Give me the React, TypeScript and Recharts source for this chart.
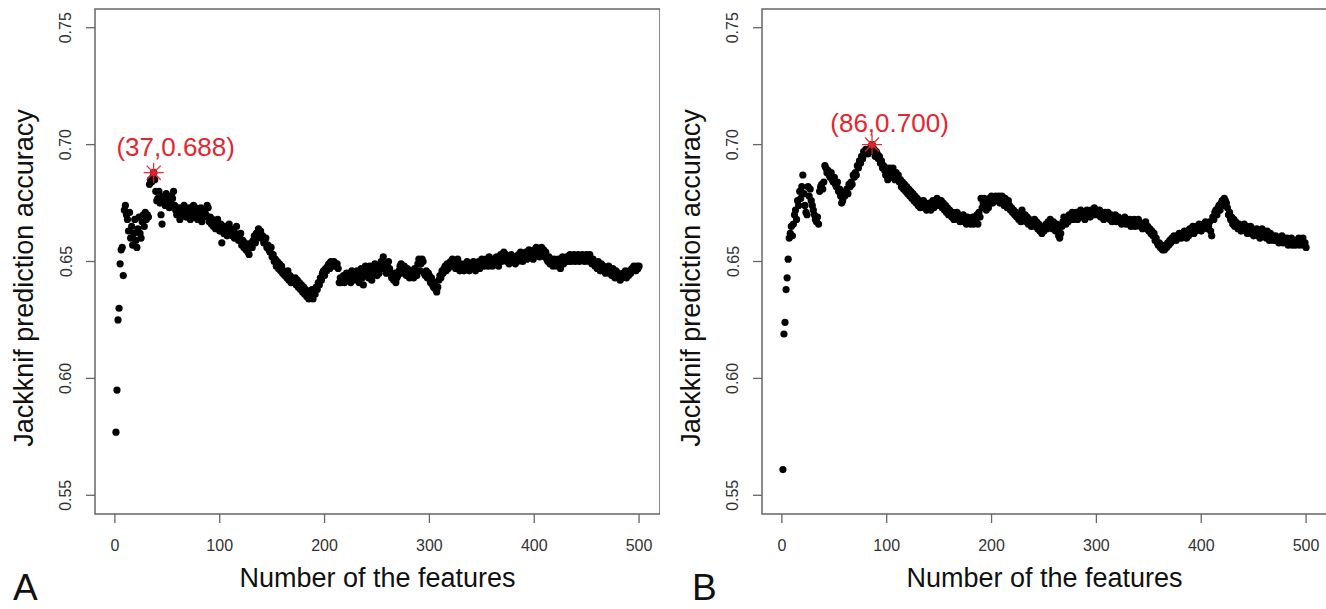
import { Label, ReferenceArea, Scatter, ScatterChart, XAxis, YAxis } from 'recharts'

// number of features on the x axis (1..500)
const featureCounts = Array.from({ length: 500 }, (_, i) => i + 1)

// jackknife accuracy x1000
const accuracyA = [
  577, 595, 625, 630, 649, 655, 656, 644, 672, 674,
  670, 668, 663, 671, 660, 665, 657, 662, 668, 659,
  656, 664, 669, 662, 660, 667, 670, 665, 671, 668,
  670, 669, 683, 685, 684, 686, 688, 685, 680, 676,
  677, 680, 675, 670, 666, 678, 676, 674, 679, 677,
  675, 673, 676, 678, 677, 680, 674, 672, 670, 673,
  671, 668, 673, 672, 670, 674, 671, 669, 672, 670,
  673, 668, 672, 671, 674, 669, 673, 671, 668, 672,
  670, 673, 667, 671, 669, 672, 670, 674, 673, 667,
  669, 666, 668, 665, 667, 664, 666, 668, 665, 663,
  666, 658, 664, 662, 665, 663, 661, 664, 666, 662,
  664, 661, 663, 660, 662, 665, 661, 659, 660, 662,
  657, 659, 656, 658, 655, 657, 654, 653, 656, 658,
  656, 659, 661, 658, 662, 660, 664, 662, 663, 660,
  661, 658, 659, 660, 656, 657, 655, 654, 656, 652,
  653, 650, 651, 648, 650, 647, 649, 646, 648, 645,
  646, 644, 645, 643, 646, 642, 644, 641, 643, 642,
  641, 643, 640, 642, 639, 641, 638, 640, 637, 639,
  636, 638, 635, 637, 634, 636, 635, 638, 634, 637,
  636, 639, 638, 641, 640, 643, 642, 645, 646, 644,
  647, 646, 648, 649, 647, 650, 649, 648, 650, 649,
  648, 649, 647, 641, 643, 641, 642, 644, 641, 643,
  645, 642, 644, 643, 641, 646, 644, 642, 645, 643,
  646, 644, 641, 645, 647, 643, 640, 645, 648, 644,
  646, 643, 648, 645, 642, 647, 645, 649, 646, 644,
  647, 645, 648, 650, 647, 652, 649, 647, 645, 648,
  650, 647, 645, 643, 644, 642, 645, 641, 643, 644,
  646, 648, 649, 647, 645, 648, 646, 644, 647, 645,
  643, 646, 644, 645, 643, 647, 645, 644, 649, 651,
  646, 649, 651, 650, 645, 644, 646, 643, 645, 644,
  641, 643, 640, 639, 641, 638, 637, 639, 642, 644,
  643, 646, 645, 647, 648, 646, 649, 647, 648, 650,
  649, 651, 648, 650, 647, 649, 651, 648, 646, 649,
  647, 648, 646, 649, 648, 650, 647, 646, 648, 649,
  647, 650, 648, 646, 649, 648, 650, 647, 649, 651,
  650, 648, 649, 651, 650, 648, 652, 649, 650, 648,
  651, 649, 650, 652, 650, 648, 651, 653, 650, 652,
  654, 651, 653, 650, 652, 649, 651, 653, 650, 652,
  651, 649, 652, 650, 653, 651, 654, 652, 650, 653,
  652, 654, 651, 653, 655, 652, 654, 653, 651, 655,
  654, 656, 653, 655, 652, 654, 656, 653, 655, 652,
  654, 651, 650, 652, 649, 651, 650, 648, 651, 649,
  650, 648, 651, 649, 647, 650, 652, 649, 651, 650,
  652, 650, 651, 653, 650, 652, 651, 653, 650, 652,
  651, 653, 650, 652, 651, 653, 652, 650, 651, 653,
  652, 650, 653, 651, 649, 651, 650, 648, 649, 647,
  650, 648, 646, 649, 647, 648, 646, 645, 647, 646,
  648, 645, 646, 644, 647, 645, 643, 646, 644, 645,
  643, 642, 644, 643, 645, 644, 646, 643, 645, 644,
  646, 645, 647, 646, 648, 647, 646, 648, 647, 648,
]

// jackknife accuracy x1000
const accuracyB = [
  561, 619, 624, 638, 643, 651, 660, 662, 665, 661,
  666, 670, 672, 668, 676, 674, 680, 677, 682, 687,
  679, 674, 671, 670, 682, 678, 681, 676, 674, 672,
  670, 668, 667, 669, 666, 680, 682, 683, 681, 684,
  691, 690, 688, 689, 687, 686, 688, 685, 684, 686,
  683, 682, 684, 680, 681, 678, 675, 676, 679, 678,
  680, 681, 679, 683, 682, 684, 683, 687, 686, 688,
  687, 691, 690, 693, 692, 695, 694, 697, 696, 698,
  697, 696, 698, 697, 699, 700, 697, 698, 695, 697,
  696, 694, 695, 692, 693, 690, 691, 689, 687, 690,
  685, 688, 690, 686, 689, 690, 687, 685, 688, 686,
  687, 684, 685, 682, 684, 681, 683, 680, 682, 679,
  681, 678, 680, 677, 679, 676, 678, 675, 677, 674,
  676, 673, 675, 674, 676, 673, 675, 672, 674, 673,
  675, 672, 674, 676, 673, 675, 674, 677, 675, 676,
  674, 676, 673, 675, 672, 674, 671, 673, 670, 672,
  671, 669, 671, 668, 670, 669, 671, 668, 670, 667,
  669, 668, 670, 667, 668, 666, 669, 667, 668, 666,
  667, 669, 666, 668, 667, 670, 666, 671, 669, 677,
  673, 675, 677, 674, 672, 675, 673, 677, 676, 678,
  675, 677, 676, 678, 677, 676, 678, 675, 677, 678,
  676, 674, 677, 675, 673, 676, 674, 672, 673, 671,
  672, 670, 671, 669, 670, 668, 669, 667, 672, 670,
  668, 670, 667, 669, 666, 668, 667, 665, 667, 666,
  668, 665, 667, 664, 666, 663, 665, 662, 664, 663,
  665, 666, 664, 667, 665, 668, 666, 664, 667, 665,
  663, 666, 664, 661, 660, 662, 665, 667, 669, 668,
  666, 669, 667, 670, 668, 669, 671, 668, 670, 669,
  671, 668, 670, 669, 672, 670, 669, 671, 668, 670,
  672, 670, 671, 669, 672, 670, 671, 673, 670, 672,
  671, 670, 672, 669, 671, 670, 668, 671, 669, 670,
  671, 669, 668, 670, 667, 669, 668, 670, 667, 668,
  669, 667, 668, 666, 668, 667, 669, 666, 668, 667,
  666, 668, 665, 667, 666, 668, 665, 667, 666, 668,
  667, 665, 666, 664, 666, 665, 667, 664, 665, 663,
  664, 662, 663, 661, 662, 659, 660, 658, 657, 658,
  656, 657, 655, 656, 655, 657, 656, 658, 657, 659,
  658, 660, 659, 661, 660, 659, 661, 660, 662, 661,
  660, 662, 661, 663, 662, 660, 663, 661, 664, 662,
  663, 665, 662, 664, 663, 665, 664, 666, 665, 663,
  664, 666, 665, 667, 666, 664, 665, 667, 663, 661,
  669, 668, 671, 672, 670, 673, 674, 672, 675, 676,
  674, 677, 676, 675, 673, 670, 671, 668, 669, 666,
  668, 665, 667, 666, 664, 666, 665, 663, 665, 664,
  666, 663, 665, 662, 664, 663, 665, 662, 664, 661,
  663, 662, 664, 661, 663, 660, 662, 664, 661, 663,
  662, 660, 663, 661, 659, 662, 660, 661, 659, 660,
  661, 659, 660, 658, 660, 659, 661, 658, 660, 659,
  658, 660, 657, 659, 658, 660, 657, 659, 658, 657,
  659, 658, 660, 657, 659, 658, 660, 657, 658, 656,
]

const bestA = [{ n: 37, acc: 0.688 }]
const bestB = [{ n: 86, acc: 0.7 }]

const xTicks = [0, 100, 200, 300, 400, 500]
const yTicks = [0.55, 0.6, 0.65, 0.7, 0.75]
const xTitle = 'Number of the features'
const yTitle = 'Jackknif prediction accuracy'

const X_DOMAIN: [number, number] = [-18.96, 519.96]
const Y_DOMAIN: [number, number] = [0.542, 0.758]
const FONT = '"Liberation Sans", Arial, sans-serif'
const FRAME = '#666'
const RED = '#e3262f'

const pointsA = featureCounts.map((n, i) => ({ n, acc: accuracyA[i] / 1000 }))
const pointsB = featureCounts.map((n, i) => ({ n, acc: accuracyB[i] / 1000 }))

function Dot(props: any) {
  return <circle cx={props.cx} cy={props.cy} r={3.6} fill="#000" />
}

function makeStar(dx: number, dy: number) {
  return function Star(props: any) {
    const { cx, cy, payload } = props
    const r = 10
    const d = r * Math.SQRT1_2
    return (
      <g>
        <circle cx={cx} cy={cy} r={3.8} fill="#b51a22" />
        <line x1={cx - r} y1={cy} x2={cx + r} y2={cy} stroke={RED} strokeWidth={1.2} />
        <line x1={cx} y1={cy - r} x2={cx} y2={cy + r} stroke={RED} strokeWidth={1.2} />
        <line x1={cx - d} y1={cy - d} x2={cx + d} y2={cy + d} stroke={RED} strokeWidth={1.2} />
        <line x1={cx - d} y1={cy + d} x2={cx + d} y2={cy - d} stroke={RED} strokeWidth={1.2} />
        <text
          x={cx + dx}
          y={cy + dy}
          textAnchor="middle"
          dominantBaseline="central"
          fontSize={26}
          fontFamily={FONT}
          fill={RED}
        >
          {`(${payload.n},${payload.acc.toFixed(3)})`}
        </text>
      </g>
    )
  }
}

function XTick({ x, y, payload }: any) {
  return (
    <text x={x} y={y + 28} textAnchor="middle" fontSize={16} fontFamily={FONT} fill="#333">
      {payload.value}
    </text>
  )
}

function YTick({ x, y, payload }: any) {
  const tx = x - 14.5
  return (
    <text
      x={tx}
      y={y}
      transform={`rotate(-90, ${tx}, ${y})`}
      textAnchor="middle"
      fontSize={16}
      fontFamily={FONT}
      fill="#333"
    >
      {payload.value.toFixed(2)}
    </text>
  )
}

type PanelProps = {
  points: { n: number; acc: number }[]
  best: { n: number; acc: number }[]
  left: number
  width: number
  axisWidth: number
  letter: string
  letterX: number
  labelDx: number
  labelDy: number
}

function Panel({ points, best, left, width, axisWidth, letter, letterX, labelDx, labelDy }: PanelProps) {
  return (
    <div style={{ position: 'absolute', left, top: 0 }}>
      <ScatterChart width={width} height={609} margin={{ top: 9, right: 0, bottom: 0, left: 0 }}>
        <XAxis
          type="number"
          dataKey="n"
          domain={X_DOMAIN}
          ticks={xTicks}
          interval={0}
          allowDataOverflow
          axisLine={false}
          tickSize={9}
          tickMargin={0}
          tickLine={{ stroke: FRAME, strokeWidth: 1.3 }}
          tick={<XTick />}
          height={95}
        >
          <Label
            content={({ viewBox }: any) => (
              <g>
                <text
                  x={viewBox.x + viewBox.width / 2}
                  y={viewBox.y + 73}
                  textAnchor="middle"
                  fontSize={27}
                  fontFamily={FONT}
                  fill="#111"
                >
                  {xTitle}
                </text>
                <text x={letterX} y={600} fontSize={37} fontFamily={FONT} fill="#111">
                  {letter}
                </text>
              </g>
            )}
          />
        </XAxis>
        <YAxis
          type="number"
          dataKey="acc"
          domain={Y_DOMAIN}
          ticks={yTicks}
          interval={0}
          allowDataOverflow
          axisLine={false}
          tickSize={9}
          tickMargin={0}
          tickLine={{ stroke: FRAME, strokeWidth: 1.3 }}
          tick={<YTick />}
          width={axisWidth}
        >
          <Label
            content={({ viewBox }: any) => {
              const tx = viewBox.x + viewBox.width - 62
              const ty = viewBox.y + viewBox.height / 2 + 16.5
              return (
                <text
                  x={tx}
                  y={ty}
                  transform={`rotate(-90, ${tx}, ${ty})`}
                  textAnchor="middle"
                  fontSize={27}
                  fontFamily={FONT}
                  fill="#111"
                >
                  {yTitle}
                </text>
              )
            }}
          />
        </YAxis>
        <ReferenceArea
          x1={X_DOMAIN[0]}
          x2={X_DOMAIN[1]}
          y1={Y_DOMAIN[0]}
          y2={Y_DOMAIN[1]}
          ifOverflow="visible"
          fill="none"
          stroke={FRAME}
          strokeWidth={1.5}
        />
        <Scatter data={points} shape={Dot} isAnimationActive={false} />
        <Scatter data={best} shape={makeStar(labelDx, labelDy)} isAnimationActive={false} />
      </ScatterChart>
    </div>
  )
}

export default function App() {
  return (
    <div
      style={{
        position: 'absolute',
        left: 0,
        top: 0,
        width: 1326,
        height: 609,
        overflow: 'hidden',
        background: '#fff',
      }}
    >
      <Panel
        points={pointsA}
        best={bestA}
        left={0}
        width={660}
        axisWidth={95}
        letter="A"
        letterX={13}
        labelDx={22}
        labelDy={-26}
      />
      <Panel
        points={pointsB}
        best={bestB}
        left={662}
        width={665}
        axisWidth={100}
        letter="B"
        letterX={30}
        labelDx={17.5}
        labelDy={-22}
      />
    </div>
  )
}
